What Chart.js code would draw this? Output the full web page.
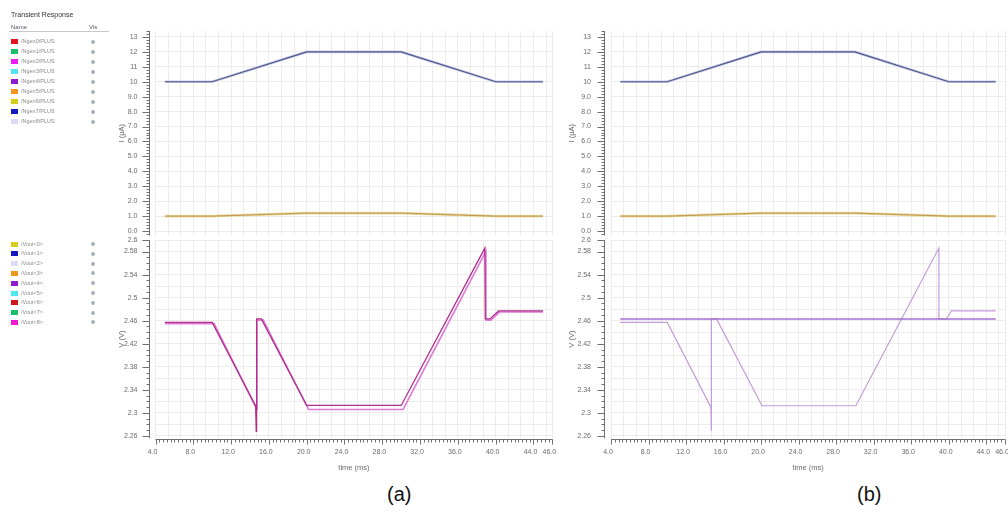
<!DOCTYPE html>
<html><head><meta charset="utf-8">
<script src="https://cdn.jsdelivr.net/npm/chart.js@4.4.1/dist/chart.umd.min.js"></script>
<style>
html,body{margin:0;padding:0;background:#fff;width:1008px;height:513px;overflow:hidden;font-family:"Liberation Sans",Arial,sans-serif;}
canvas{position:absolute;}
#legend{position:absolute;left:0;top:0;width:112px;height:340px;z-index:3;}
.lg-title{position:absolute;left:11px;top:11px;font-size:7px;color:#333;white-space:nowrap;}
.lg-head{position:absolute;top:24px;font-size:6px;color:#556;white-space:nowrap;}
.lg-rule{position:absolute;left:9px;top:31px;width:100px;height:1px;background:#c8c8c8;}
.lg-row{position:absolute;left:0;height:8px;width:110px;}
.lg-sw{position:absolute;left:11px;top:1px;width:7px;height:5px;}
.lg-tx{position:absolute;left:21px;top:0px;font-size:5.5px;line-height:7px;color:#8a8a8a;white-space:nowrap;}
.lg-eye{position:absolute;left:91px;top:1.5px;width:4px;height:4px;border-radius:50%;background:#a7b0bb;}
.cap{position:absolute;top:483px;font-size:20px;color:#111;font-family:"Liberation Sans",Arial,sans-serif;}
</style></head><body>
<div id="legend"></div>
<canvas id="aTop" width="460" height="215" style="left:100px;top:25px"></canvas>
<canvas id="aBot" width="460" height="248" style="left:100px;top:230px"></canvas>
<canvas id="bTop" width="453" height="215" style="left:555px;top:25px"></canvas>
<canvas id="bBot" width="453" height="248" style="left:555px;top:230px"></canvas>
<div class="cap" style="left:387px">(a)</div>
<div class="cap" style="left:857px">(b)</div>
<script>
// ---------------- data ----------------
const legendNames1 = ['/Ngen0/PLUS','/Ngen1/PLUS','/Ngen2/PLUS','/Ngen3/PLUS','/Ngen4/PLUS','/Ngen5/PLUS','/Ngen6/PLUS','/Ngen7/PLUS','/Ngen8/PLUS'];
const legendColors1 = ['#e0161c','#19c06a','#f01af0','#4fe6f0','#8f1ad0','#f0961e','#d6cf1a','#1419c0','#dcdcf8'];
const legendNames2 = ['/Vout<0>','/Vout<1>','/Vout<2>','/Vout<3>','/Vout<4>','/Vout<5>','/Vout<6>','/Vout<7>','/Vout<8>'];
const legendColors2 = ['#d6cf1a','#1419c0','#dcdcf8','#f0961e','#8f1ad0','#4fe6f0','#d0161c','#19c06a','#f01ad0'];

const timeTicks = [4,8,12,16,20,24,28,32,36,40,44,46];
const timeTickLabels = ['4.0','8.0','12.0','16.0','20.0','24.0','28.0','32.0','36.0','40.0','44.0','46.0'];
const iTicks = [0,1,2,3,4,5,6,7,8,9,10,11,12,13];
const iTickLabels = ['0.0','1.0','2.0','3.0','4.0','5.0','6.0','7.0','8.0','9.0','10','11','12','13'];
const vTicks = [2.26,2.30,2.34,2.38,2.42,2.46,2.50,2.54,2.58,2.60];
const vTickLabels = ['2.26','2.3','2.34','2.38','2.42','2.46','2.5','2.54','2.58','2.6'];

// current (µA), top plots
const iTime  = [5, 10, 20, 30, 40, 45];
const iUpper = [10, 10, 12, 12, 10, 10];
const iLower = [1.0, 1.0, 1.2, 1.2, 1.0, 1.0];

// voltage (V), panel (a)
const vTimeA1 = [5, 10, 14.6, 14.66, 14.7, 15.2, 20.0, 30.0, 38.85, 38.9, 39.4, 40.3, 45];
const vA1     = [2.457, 2.457, 2.312, 2.268, 2.463, 2.463, 2.313, 2.313, 2.586, 2.463, 2.463, 2.477, 2.477];
const vTimeA2 = [5, 10.2, 14.72, 14.74, 15.4, 20.2, 30.2, 38.95, 38.97, 39.5, 40.4, 45];
const vA2     = [2.455, 2.455, 2.306, 2.461, 2.461, 2.306, 2.306, 2.580, 2.461, 2.461, 2.475, 2.475];

// voltage (V), panel (b)
const vTimeB1 = [5, 45];
const vB1     = [2.463, 2.463];
const vTimeB2 = [5, 10, 14.65, 14.7, 14.7, 15.25, 20.1, 30.1, 38.95, 38.95, 39.75, 40.3, 45];
const vB2     = [2.457, 2.457, 2.31, 2.269, 2.463, 2.463, 2.3125, 2.3125, 2.586, 2.463, 2.463, 2.477, 2.477];

// ---------------- legend ----------------
(function(){
  const lg = document.getElementById('legend');
  let h = '<div class="lg-title">Transient Response</div>';
  h += '<div class="lg-head" style="left:11px">Name</div><div class="lg-head" style="left:89px">Vis</div><div class="lg-rule"></div>';
  legendNames1.forEach((n,i)=>{
    h += `<div class="lg-row" style="top:${38+i*10}px"><div class="lg-sw" style="background:${legendColors1[i]}"></div><div class="lg-tx">${n.replace(/</g,'&lt;')}</div><div class="lg-eye"></div></div>`;
  });
  legendNames2.forEach((n,i)=>{
    h += `<div class="lg-row" style="top:${240.5+i*9.8}px"><div class="lg-sw" style="background:${legendColors2[i]}"></div><div class="lg-tx">${n.replace(/</g,'&lt;')}</div><div class="lg-eye"></div></div>`;
  });
  lg.innerHTML = h;
})();

// ---------------- charts ----------------
Chart.defaults.font.family = '"Liberation Sans", Arial, sans-serif';
Chart.defaults.font.size = 7;
Chart.defaults.color = '#6b6b6b';

function xy(t, v){ return t.map((x,i)=>({x:x, y:v[i]})); }
function stepVals(start, step, end){ const r=[]; for(let k=0;;k++){ const v=start+k*step; if(v>end+1e-9) break; r.push(+v.toFixed(6)); } return r; }
function mergeVals(a, b){ const r=a.slice(); b.forEach(v=>{ if(!r.some(x=>Math.abs(x-v)<1e-6)) r.push(v); }); return r.sort((p,q)=>p-q); }
function labelFor(value, vals, labels){ const k = vals.findIndex(l=>Math.abs(l-value)<1e-6); return k>=0 ? labels[k] : ''; }

const axisDecor = {
  id:'axisDecor',
  afterDraw(chart, args, o){
    if(!o || !o.enabled) return;
    const ctx = chart.ctx, ca = chart.chartArea, ys = chart.scales.y, xs = chart.scales.x;
    ctx.save();
    ctx.strokeStyle = '#707070'; ctx.lineWidth = 1;
    ctx.beginPath();
    const ax = Math.round(ca.left - 7) + 0.5;
    ctx.moveTo(ax, ca.top); ctx.lineTo(ax, ca.bottom);
    stepVals(o.yMinorStart, o.yMinorStep, ys.max).forEach(v=>{
      if(v < ys.min) return;
      const py = Math.round(ys.getPixelForValue(v)) + 0.5;
      ctx.moveTo(ax, py); ctx.lineTo(ax-3, py);
    });
    o.yMajor.forEach(v=>{
      const py = Math.round(ys.getPixelForValue(v)) + 0.5;
      ctx.moveTo(ax, py); ctx.lineTo(ax-7, py);
    });
    if(o.xAxis){
      const ay = Math.round(ca.bottom + 1) + 0.5;
      ctx.moveTo(ca.left, ay); ctx.lineTo(ca.right, ay);
      stepVals(xs.min, o.xMinorStep, xs.max).forEach(v=>{
        const px = Math.round(xs.getPixelForValue(v)) + 0.5;
        ctx.moveTo(px, ay); ctx.lineTo(px, ay+3);
      });
      o.xMajor.forEach(v=>{
        const px = Math.round(xs.getPixelForValue(v)) + 0.5;
        ctx.moveTo(px, ay); ctx.lineTo(px, ay+5);
      });
    }
    ctx.stroke();
    ctx.restore();
  }
};

const xGrid = mergeVals(stepVals(4, 4/3, 46), timeTicks);
const iGrid = iTicks.slice();
const vGrid = stepVals(2.26, 0.02, 2.60);

function makeChart(id, cfg){
  const isTop = cfg.kind === 'top';
  const yVals = isTop ? iTicks : vTicks;
  const yLabels = isTop ? iTickLabels : vTickLabels;
  const yGrid = isTop ? iGrid : vGrid;
  return new Chart(document.getElementById(id), {
    type:'line',
    data:{ datasets: cfg.datasets.map(d=>Object.assign({pointRadius:0, tension:0, fill:false, borderJoinStyle:'miter'}, d)) },
    plugins:[axisDecor],
    options:{
      responsive:false, animation:false, devicePixelRatio:1,
      layout:{ autoPadding:false, padding:{ left:0, right:cfg.padRight, top: isTop ? 6 : 10, bottom: isTop ? 4.5 : 0 } },
      plugins:{
        legend:{display:false}, tooltip:{enabled:false},
        axisDecor:{ enabled:true, yMajor:yVals, yMinorStart: isTop ? -0.2 : 2.26, yMinorStep: isTop ? 0.2 : 0.01,
                    xAxis: !isTop, xMajor: timeTicks, xMinorStep: 0.4 }
      },
      scales:{
        x:{
          type:'linear', min:4, max:46,
          afterBuildTicks:(s)=>{ s.ticks = xGrid.map(v=>({value:v})); },
          afterFit:(s)=>{ s.height = isTop ? 0 : 39.7; s.paddingLeft = 0; s.paddingRight = 0; s.paddingTop = 0; s.paddingBottom = 0; },
          grid:{ color:'#ececec', lineWidth:1, drawTicks:false },
          border:{ display:false },
          ticks:{ display: !isTop, autoSkip:false, maxRotation:0, minRotation:0, padding:10, labelOffset:-3,
                  color:'#6b6b6b', font:{size:7},
                  callback:(v)=>labelFor(v, timeTicks, timeTickLabels) },
          title:{ display: !isTop, text:'time (ms)', color:'#6b6b6b', font:{size:7.5}, padding:{top:0, bottom:6} }
        },
        y:{
          type:'linear', min: isTop ? -0.3 : 2.256, max: isTop ? 13.4 : 2.6,
          afterBuildTicks:(s)=>{ s.ticks = yGrid.map(v=>({value:v})); },
          afterFit:(s)=>{ s.width = cfg.yWidth; s.paddingLeft = 0; s.paddingRight = 0; s.paddingTop = 0; s.paddingBottom = 0; },
          grid:{ color:'#ececec', lineWidth:1, drawTicks:false },
          border:{ display:false },
          ticks:{ autoSkip:false, padding:cfg.tickPad, color:'#6b6b6b', font:{size:7},
                  callback:(v)=>labelFor(v, yVals, yLabels) },
          title:{ display:true, text: isTop ? 'I (µA)' : 'V (V)', color:'#6b6b6b', font:{size:7.5},
                  padding:{top:cfg.titlePad, bottom:0} }
        }
      }
    }
  });
}

const topSets = [
  {data:xy(iTime, iUpper), borderColor:'#c9cbe8', borderWidth:2.6, order:4},
  {data:xy(iTime, iUpper), borderColor:'#4b578c', borderWidth:1.2, order:3},
  {data:xy(iTime, iLower), borderColor:'#ece2a6', borderWidth:2.6, order:2},
  {data:xy(iTime, iLower), borderColor:'#c39a58', borderWidth:1.2, order:1}
];

makeChart('aTop', {kind:'top', padRight:7.6, yWidth:55.5, tickPad:18, titlePad:17, datasets: topSets.map(d=>Object.assign({}, d))});
makeChart('aBot', {kind:'bot', padRight:7.6, yWidth:55.5, tickPad:18, titlePad:17, datasets:[
  {data:xy(vTimeA2, vA2), borderColor:'#e07ad8', borderWidth:1.6, order:2},
  {data:xy(vTimeA1, vA1), borderColor:'#b02e88', borderWidth:1.3, order:1}
]});
makeChart('bTop', {kind:'top', padRight:3, yWidth:56, tickPad:20, titlePad:12, datasets: topSets.map(d=>Object.assign({}, d))});
makeChart('bBot', {kind:'bot', padRight:3, yWidth:56, tickPad:20, titlePad:12, datasets:[
  {data:xy(vTimeB2, vB2), borderColor:'#c59ad8', borderWidth:1.2, order:2},
  {data:xy(vTimeB1, vB1), borderColor:'#a36fcf', borderWidth:1.5, order:1}
]});
</script>
</body></html>
